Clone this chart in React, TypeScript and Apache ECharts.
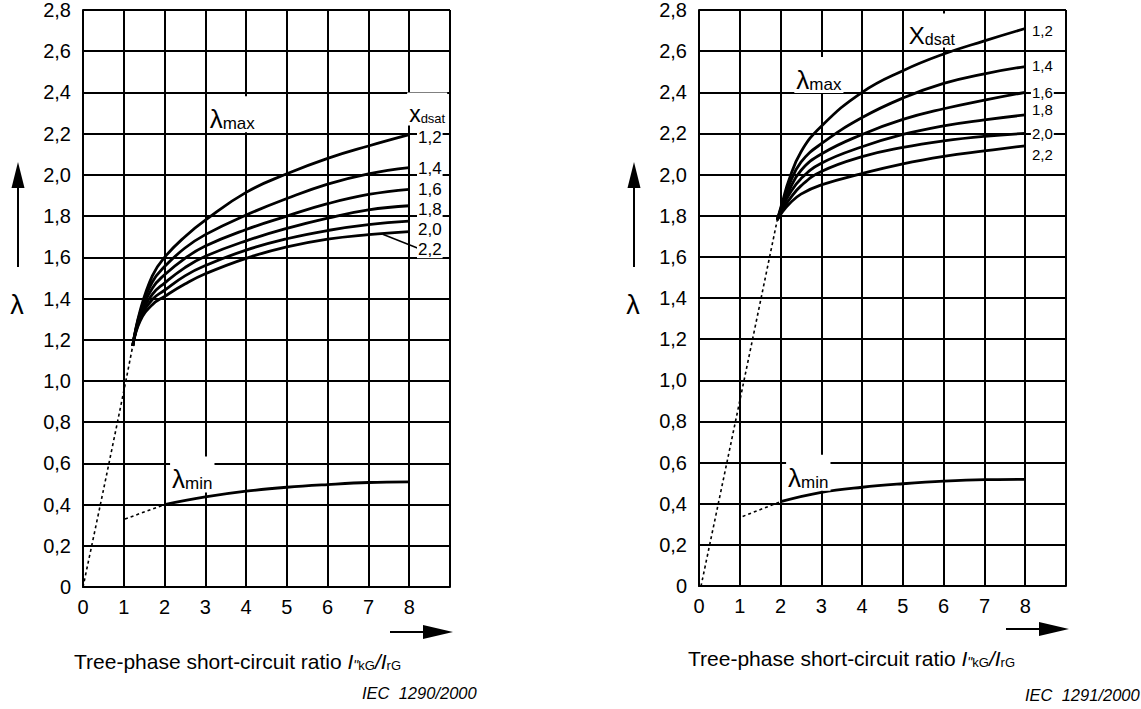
import React, { useEffect, useRef } from 'react';
import * as echarts from 'echarts';

const FONT = '"Liberation Sans", Arial, Helvetica, sans-serif';

// ---------- shared ----------
const X_MAX_TICK = 8;
const XDSAT_LABELS = ['1,2', '1,4', '1,6', '1,8', '2,0', '2,2'];

// ---------- left chart (IEC 1290/2000) ----------
const L_MAX_X = [1.22, 1.4, 1.7, 2, 2.5, 3, 4, 5, 6, 7, 8];
const L_MAX_12 = [1.17, 1.34, 1.51, 1.6, 1.7, 1.78, 1.915, 2.005, 2.08, 2.14, 2.195];
const L_MAX_14 = [1.17, 1.33, 1.48, 1.555, 1.645, 1.71, 1.805, 1.885, 1.955, 2.005, 2.035];
const L_MAX_16 = [1.17, 1.32, 1.45, 1.515, 1.595, 1.655, 1.735, 1.8, 1.86, 1.905, 1.93];
const L_MAX_18 = [1.17, 1.31, 1.42, 1.475, 1.55, 1.605, 1.68, 1.74, 1.79, 1.83, 1.85];
const L_MAX_20 = [1.17, 1.3, 1.395, 1.44, 1.51, 1.56, 1.635, 1.69, 1.73, 1.758, 1.775];
const L_MAX_22 = [1.17, 1.29, 1.37, 1.41, 1.47, 1.52, 1.595, 1.65, 1.688, 1.71, 1.725];
const L_MAX_DOT = [[0, 0], [0.5, 0.47], [1, 0.95], [1.22, 1.17]];
const L_MIN_X = [2, 3, 4, 5, 6, 7, 8];
const L_MIN = [0.4, 0.437, 0.465, 0.484, 0.497, 0.507, 0.51];
const L_MIN_DOT = [[1.03, 0.33], [2, 0.4]];
const L_LABEL_X = 8.19;
const L_LABEL_Y = [2.18, 2.03, 1.927, 1.83, 1.734, 1.637];
const L_LEADER = [[7.35, 1.712], [8.2, 1.645]];
const L_TXT_MAX = [3.66, 2.294];
const L_TXT_MIN = [2.68, 0.546];
const L_TXT_XD = [8.44, 2.32];

// ---------- right chart (IEC 1291/2000) ----------
const R_MAX_X = [1.92, 2.05, 2.2, 2.5, 3, 4, 5, 6, 7, 8];
const R_MAX_12 = [1.78, 1.87, 1.97, 2.11, 2.235, 2.4, 2.505, 2.586, 2.65, 2.71];
const R_MAX_14 = [1.78, 1.86, 1.945, 2.06, 2.15, 2.277, 2.372, 2.443, 2.49, 2.525];
const R_MAX_16 = [1.78, 1.85, 1.92, 2.02, 2.1, 2.195, 2.268, 2.32, 2.362, 2.4];
const R_MAX_18 = [1.78, 1.84, 1.9, 1.98, 2.055, 2.135, 2.195, 2.237, 2.266, 2.29];
const R_MAX_20 = [1.78, 1.832, 1.875, 1.945, 2.015, 2.087, 2.132, 2.164, 2.186, 2.2];
const R_MAX_22 = [1.78, 1.82, 1.855, 1.905, 1.95, 2.005, 2.052, 2.088, 2.115, 2.14];
const R_MAX_DOT = [[0.05, 0], [1, 0.9], [1.92, 1.78]];
const R_MIN_X = [2, 3, 4, 5, 6, 7, 8];
const R_MIN = [0.41, 0.455, 0.48, 0.497, 0.51, 0.517, 0.518];
const R_MIN_DOT = [[1.07, 0.338], [2, 0.41]];
const R_LABEL_X = 8.14;
const R_LABEL_Y = [2.7, 2.53, 2.4, 2.314, 2.2, 2.097];
const R_TXT_MAX = [2.94, 2.484];
const R_TXT_MIN = [2.68, 0.55];
const R_TXT_XD = [5.71, 2.7];

const LEFT = {
  grid: { left: 83, top: 7, width: 367, height: 580 },
  maxX: L_MAX_X,
  maxY: [L_MAX_12, L_MAX_14, L_MAX_16, L_MAX_18, L_MAX_20, L_MAX_22],
  maxDot: L_MAX_DOT,
  minX: L_MIN_X,
  minY: L_MIN,
  minDot: L_MIN_DOT,
  labelX: L_LABEL_X,
  labelY: L_LABEL_Y,
  leader: L_LEADER,
  txtMax: L_TXT_MAX,
  txtMin: L_TXT_MIN,
  txtXd: L_TXT_XD,
  xdText: 'x',
  xdBig: 23,
  xdSmall: 13,
  labelFont: 17,
};
const RIGHT = {
  grid: { left: 699, top: 6, width: 367, height: 580 },
  maxX: R_MAX_X,
  maxY: [R_MAX_12, R_MAX_14, R_MAX_16, R_MAX_18, R_MAX_20, R_MAX_22],
  maxDot: R_MAX_DOT,
  minX: R_MIN_X,
  minY: R_MIN,
  minDot: R_MIN_DOT,
  labelX: R_LABEL_X,
  labelY: R_LABEL_Y,
  leader: null as number[][] | null,
  txtMax: R_TXT_MAX,
  txtMin: R_TXT_MIN,
  txtXd: R_TXT_XD,
  xdText: 'X',
  xdBig: 24,
  xdSmall: 16,
  labelFont: 15,
};

function fmtY(v: number) {
  if (Math.abs(v) < 1e-9) return '0';
  return v.toFixed(1).replace('.', ',');
}

function buildSeries(c: typeof LEFT, g: number) {
  const base = { xAxisIndex: g, yAxisIndex: g, animation: false, silent: true };
  const s: any[] = [];
  c.maxY.forEach((ys) => {
    s.push({
      ...base,
      type: 'line',
      data: c.maxX.map((x, j) => [x, ys[j]]),
      smooth: 0.45,
      symbol: 'none',
      lineStyle: { color: '#000', width: 2.8 },
      z: 3,
    });
  });
  s.push({
    ...base,
    type: 'line',
    data: c.maxDot,
    smooth: 0.3,
    symbol: 'none',
    lineStyle: { color: '#000', width: 1.6, type: [3, 3] },
    z: 3,
  });
  s.push({
    ...base,
    type: 'line',
    data: c.minX.map((x, j) => [x, c.minY[j]]),
    smooth: 0.4,
    symbol: 'none',
    lineStyle: { color: '#000', width: 2.8 },
    z: 3,
  });
  s.push({
    ...base,
    type: 'line',
    data: c.minDot,
    symbol: 'none',
    lineStyle: { color: '#000', width: 1.6, type: [3, 3] },
    z: 3,
  });
  if (c.leader) {
    s.push({
      ...base,
      type: 'line',
      data: c.leader,
      symbol: 'none',
      lineStyle: { color: '#000', width: 1.5 },
      z: 3,
    });
  }
  const curveLabels = XDSAT_LABELS.map((t, i) => ({
    value: [c.labelX, c.labelY[i]],
    label: {
      show: true,
      position: 'right',
      distance: 0,
      formatter: t,
      fontSize: c.labelFont,
      fontFamily: FONT,
      color: '#000',
      opacity: 1,
      backgroundColor: '#fff',
      padding: [0, 1, 0, 1],
    },
  }));
  const richLab = (big: string, small: string, bigSize: number, smallSize: number, val: number[]) => ({
    value: val,
    label: {
      show: true,
      position: 'inside',
      formatter: `{g|${big}}{s|${small}}`,
      backgroundColor: '#fff',
      opacity: 1,
      padding: [0, 2, 0, 2],
      rich: {
        g: { fontSize: bigSize, lineHeight: bigSize + 10, verticalAlign: 'bottom', fontFamily: FONT, color: '#000' },
        s: { fontSize: smallSize, lineHeight: smallSize, verticalAlign: 'bottom', fontFamily: FONT, color: '#000' },
      },
    },
  });
  s.push({
    ...base,
    type: 'scatter',
    symbolSize: 0,
    itemStyle: { color: '#000', opacity: 1 },
    z: 5,
    data: [
      ...curveLabels,
      richLab('λ', 'max', 26, 17, c.txtMax),
      richLab('λ', 'min', 26, 17, c.txtMin),
      richLab(c.xdText, 'dsat', c.xdBig, c.xdSmall, c.txtXd),
    ],
  });
  return s;
}

function axes(g: number) {
  const lineSt = { color: '#000', width: 2 };
  return {
    x: {
      type: 'value',
      gridIndex: g,
      min: 0,
      max: 9,
      interval: 1,
      axisLine: { show: true, lineStyle: lineSt },
      axisTick: { show: false },
      splitLine: { show: true, lineStyle: lineSt },
      axisLabel: {
        margin: 10,
        fontSize: 20,
        fontFamily: FONT,
        color: '#000',
        showMaxLabel: true,
        showMinLabel: true,
        formatter: (v: number) => (v <= X_MAX_TICK ? String(v) : ''),
      },
    },
    y: {
      type: 'value',
      gridIndex: g,
      min: 0,
      max: 2.8,
      interval: 0.2,
      axisLine: { show: true, lineStyle: lineSt },
      axisTick: { show: false },
      splitLine: { show: true, lineStyle: lineSt },
      axisLabel: {
        margin: 12,
        fontSize: 20,
        fontFamily: FONT,
        color: '#000',
        showMaxLabel: true,
        showMinLabel: true,
        formatter: fmtY,
      },
    },
  };
}

function titleText(x: number, y: number) {
  return {
    type: 'text',
    x,
    y,
    silent: true,
    style: {
      text: '{n|Tree-phase short-circuit ratio }{i|I}{p|"}{b|kG}{i|/I}{b|rG}',
      fill: '#000',
      align: 'left',
      verticalAlign: 'bottom',
      textAlign: 'left',
      textVerticalAlign: 'bottom',
      rich: {
        n: { fontSize: 21, lineHeight: 29, verticalAlign: 'bottom', fontFamily: FONT, color: '#000' },
        i: { fontSize: 21, lineHeight: 29, verticalAlign: 'bottom', fontFamily: FONT, fontStyle: 'italic', color: '#000' },
        p: { fontSize: 14, lineHeight: 43, verticalAlign: 'bottom', fontFamily: FONT, fontStyle: 'italic', color: '#000' },
        b: { fontSize: 13, lineHeight: 13, verticalAlign: 'bottom', fontFamily: FONT, color: '#000' },
      },
    },
  };
}

function yArrow(x: number) {
  return [
    { type: 'line', silent: true, shape: { x1: x, y1: 185, x2: x, y2: 267 }, style: { stroke: '#000', lineWidth: 2 } },
    { type: 'polygon', silent: true, shape: { points: [[x - 6.5, 188], [x + 6.5, 188], [x, 162]] }, style: { fill: '#000' } },
    {
      type: 'text', silent: true, x: x - 1, y: 305,
      style: { text: 'λ', fontSize: 27, fontFamily: FONT, fill: '#000', align: 'center', verticalAlign: 'middle', textAlign: 'center', textVerticalAlign: 'middle' },
    },
  ];
}

function xArrow(x0: number, y: number) {
  return [
    { type: 'line', silent: true, shape: { x1: x0, y1: y, x2: x0 + 36, y2: y }, style: { stroke: '#000', lineWidth: 2 } },
    { type: 'polygon', silent: true, shape: { points: [[x0 + 33, y - 7], [x0 + 33, y + 7], [x0 + 63, y]] }, style: { fill: '#000' } },
  ];
}

function iecText(x: number, y: number, t: string) {
  return {
    type: 'text', silent: true, x, y,
    style: { text: t, fontSize: 16.5, fontStyle: 'italic', fontFamily: FONT, fill: '#000', align: 'left', verticalAlign: 'middle', textAlign: 'left', textVerticalAlign: 'middle' },
  };
}

export default function App() {
  const ref = useRef<HTMLDivElement>(null);
  useEffect(() => {
    document.body.style.margin = '0';
    if (!ref.current) return;
    const chart = echarts.init(ref.current, undefined, { renderer: 'svg' });
    const a0 = axes(0);
    const a1 = axes(1);
    chart.setOption({
      animation: false,
      backgroundColor: '#fff',
      textStyle: { fontFamily: FONT },
      grid: [LEFT.grid, RIGHT.grid],
      xAxis: [a0.x, a1.x],
      yAxis: [a0.y, a1.y],
      series: [...buildSeries(LEFT, 0), ...buildSeries(RIGHT, 1)],
      graphic: [
        ...yArrow(18),
        ...yArrow(634),
        ...xArrow(390, 632),
        ...xArrow(1006, 629),
        titleText(74, 672),
        titleText(688, 669),
        iecText(362, 693, 'IEC  1290/2000'),
        iecText(1025, 695, 'IEC  1291/2000'),
      ],
    });
    return () => chart.dispose();
  }, []);
  return <div ref={ref} style={{ position: 'absolute', left: 0, top: 0, width: 1141, height: 709 }} />;
}
